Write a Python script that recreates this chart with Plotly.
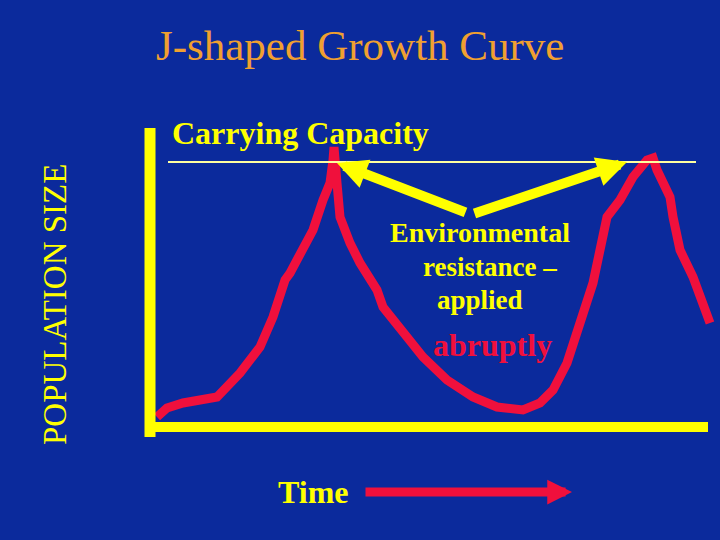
import plotly.graph_objects as go

# ---- data (time units / population units) ----
time = [7, 17, 33, 67, 90, 110, 123, 135, 140, 153, 163, 173, 180, 183, 184,
        187, 190, 200, 210, 227, 233, 257, 273, 297, 323, 347, 373, 390, 403,
        417, 430, 443, 450, 457, 470, 483, 497, 503, 507, 520, 523, 530, 543, 560]
population = [10, 19, 24, 30, 54, 80, 110, 147, 154, 177, 197, 227, 244, 267, 280,
              244, 210, 184, 164, 137, 120, 90, 70, 47, 30, 20, 17, 24, 37,
              64, 104, 144, 177, 210, 227, 250, 267, 269, 257, 230, 210, 177, 150, 104]
carrying_capacity = 265
cc_start, cc_end = 18, 546

BG = "#0b2a9c"
YELLOW = "#ffff00"
RED = "#f0103c"
ORANGE = "#f0a030"
SERIF = "Liberation Serif"

fig = go.Figure()

fig.add_trace(go.Scatter(x=time, y=population, mode="lines",
                         line=dict(color=RED, width=9), hoverinfo="skip",
                         showlegend=False))

shapes = [
    dict(type="line", x0=0, x1=0, y0=-10, y1=299, line=dict(color=YELLOW, width=11), layer="above"),
    dict(type="line", x0=-5, x1=558, y0=0, y1=0, line=dict(color=YELLOW, width=10), layer="above"),
    dict(type="line", x0=cc_start, x1=cc_end, y0=carrying_capacity, y1=carrying_capacity,
         line=dict(color="#ffffa0", width=2), layer="above"),
]

ann = []
def txt(t, x, y, size, color, bold=True, xanchor="center", angle=0):
    s = f"<b>{t}</b>" if bold else t
    ann.append(dict(text=s, x=x, y=y, xref="x", yref="y", showarrow=False,
                    xanchor=xanchor, yanchor="middle", textangle=angle,
                    font=dict(family=SERIF, size=size, color=color)))

txt("J-shaped Growth Curve", 210, 382, 43, ORANGE, bold=False)
txt("Carrying Capacity", 20, 294, 32, YELLOW, xanchor="left")
txt("Environmental", 330, 195, 28, YELLOW)
txt("resistance –", 340, 160, 27, YELLOW)
txt("applied", 330, 127, 27, YELLOW)
txt("abruptly", 342, 82, 32, RED)
txt("Time", 163, -65, 32, YELLOW)
txt("POPULATION SIZE", -95, 122, 33, YELLOW, bold=False, angle=-90)

def arrow(x0, y0, x1, y1, color, width, size):
    ann.append(dict(text="", x=x1, y=y1, ax=x0, ay=y0, xref="x", yref="y",
                    axref="x", ayref="y", showarrow=True, arrowhead=2,
                    arrowwidth=width, arrowsize=size, arrowcolor=color,
                    standoff=0, startstandoff=0))

arrow(317, 214, 187, 264, YELLOW, 10, 0.6)
arrow(323, 213, 477, 265, YELLOW, 10, 0.6)
arrow(214, -65, 422, -65, RED, 9, 0.55)

fig.update_layout(
    width=720, height=540,
    margin=dict(l=0, r=0, t=0, b=0),
    paper_bgcolor=BG, plot_bgcolor=BG,
    xaxis=dict(range=[-150, 570], visible=False, fixedrange=True),
    yaxis=dict(range=[-113, 427], visible=False, fixedrange=True),
    shapes=shapes, annotations=ann, showlegend=False,
)

fig.write_html("out.html", config={"displayModeBar": False})

# remove the default page margin so the figure fills the window
with open("out.html", encoding="utf-8") as f:
    html = f.read()
html = html.replace("<body>", '<body style="margin:0;background:%s">' % BG, 1)
with open("out.html", "w", encoding="utf-8") as f:
    f.write(html)
